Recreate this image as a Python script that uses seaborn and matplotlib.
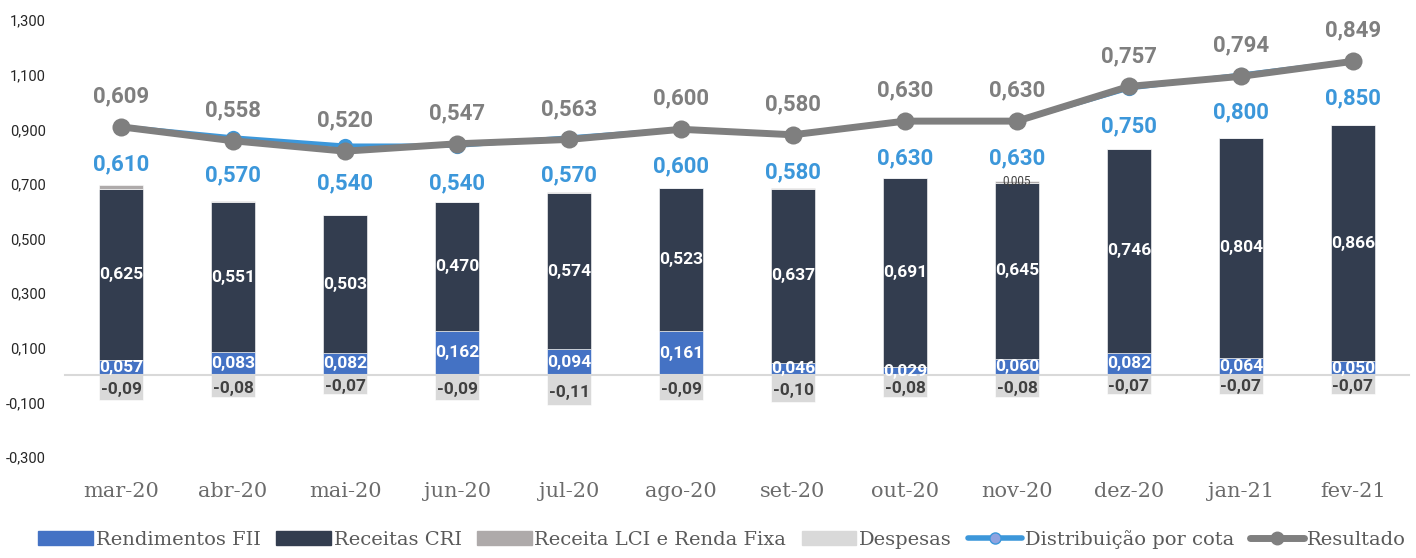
import numpy as np
import matplotlib
matplotlib.use('Agg')
import matplotlib.pyplot as plt
import seaborn as sns
from matplotlib.patches import Patch
from matplotlib.lines import Line2D

# === dados ===
meses = ['mar-20', 'abr-20', 'mai-20', 'jun-20', 'jul-20', 'ago-20',
         'set-20', 'out-20', 'nov-20', 'dez-20', 'jan-21', 'fev-21']
rend_fii = [0.057, 0.083, 0.082, 0.162, 0.094, 0.161, 0.046, 0.029, 0.060, 0.082, 0.064, 0.050]
receitas_cri = [0.625, 0.551, 0.503, 0.470, 0.574, 0.523, 0.637, 0.691, 0.645, 0.746, 0.804, 0.866]
receita_lci = [0.015, 0.002, 0.002, 0.002, 0.002, 0.002, 0.002, 0.002, 0.005, 0.0, 0.0, 0.0]
lci_rotulo = ['', '', '', '', '', '', '', '', '0,005', '', '', '']
despesas = [-0.09, -0.08, -0.07, -0.09, -0.11, -0.09, -0.10, -0.08, -0.08, -0.07, -0.07, -0.07]
distribuicao = [0.610, 0.570, 0.540, 0.540, 0.570, 0.600, 0.580, 0.630, 0.630, 0.750, 0.800, 0.850]
resultado = [0.609, 0.558, 0.520, 0.547, 0.563, 0.600, 0.580, 0.630, 0.630, 0.757, 0.794, 0.849]

c_fii = '#4472c4'
c_cri = '#333d4f'
c_lci = '#aeaaaa'
c_desp = '#d9d9d9'
c_dist = '#3c97da'
c_res = '#7f7f7f'


def fmt(v, casas=3):
    return f"{v:.{casas}f}".replace('.', ',')


sns.set_style('white')
plt.rcParams['font.family'] = ['Roboto', 'DejaVu Sans']

fig = plt.figure(figsize=(14.16, 5.58), dpi=100)
ax = fig.add_axes([0.046, 0.181, 0.949, 0.783])

largura = 0.39
base_cri = np.array(rend_fii)
base_lci = base_cri + np.array(receitas_cri)

sns.barplot(x=meses, y=rend_fii, color=c_fii, width=largura, errorbar=None,
            saturation=1, ax=ax, edgecolor='white', linewidth=0.4)
sns.barplot(x=meses, y=receitas_cri, bottom=base_cri, color=c_cri, width=largura,
            errorbar=None, saturation=1, ax=ax, edgecolor='white', linewidth=0.4)
sns.barplot(x=meses, y=receita_lci, bottom=base_lci, color=c_lci, width=largura,
            errorbar=None, saturation=1, ax=ax, edgecolor='white', linewidth=0.4)
sns.barplot(x=meses, y=despesas, color=c_desp, width=largura, errorbar=None,
            saturation=1, ax=ax, edgecolor='white', linewidth=0.4)

# rotulos das barras
for i in range(len(meses)):
    ax.text(i, rend_fii[i] / 2, fmt(rend_fii[i]), ha='center', va='center',
            color='white', fontsize=12.5, fontweight='bold')
    ax.text(i, base_cri[i] + receitas_cri[i] / 2, fmt(receitas_cri[i]), ha='center',
            va='center', color='white', fontsize=12.5, fontweight='bold')
    ax.text(i, despesas[i] / 2 - 0.008, fmt(despesas[i], 2), ha='center', va='center',
            color='#404040', fontsize=12.5, fontweight='bold')
    if lci_rotulo[i]:
        ax.text(i, base_lci[i] + receita_lci[i], lci_rotulo[i], ha='center',
                va='center', color='#404040', fontsize=8.5)

# linhas no eixo secundario
ax2 = ax.twinx()
x = np.arange(len(meses))
sns.lineplot(x=x, y=distribuicao, color=c_dist, linewidth=3.2, marker='o',
             markersize=11, markeredgewidth=0, ax=ax2, zorder=3)
sns.lineplot(x=x, y=resultado, color=c_res, linewidth=5, marker='o',
             markersize=13, markeredgewidth=0, ax=ax2, zorder=4)
ax2.set_ylim(-0.6, 1.0)
ax2.set_yticks([])
ax2.set_ylabel('')
for s in ax2.spines.values():
    s.set_visible(False)

for i in range(len(meses)):
    ax2.annotate(fmt(resultado[i]), (i, resultado[i]), xytext=(0, 22),
                 textcoords='offset points', ha='center', va='center',
                 color=c_res, fontsize=16, fontweight='bold')
    ax2.annotate(fmt(distribuicao[i]), (i, distribuicao[i]), xytext=(0, -27),
                 textcoords='offset points', ha='center', va='center',
                 color=c_dist, fontsize=16, fontweight='bold')

# eixos (spine primeiro, pois set_position recria os ticks)
for s in ['left', 'right', 'top']:
    ax.spines[s].set_visible(False)
ax.spines['bottom'].set_position(('data', 0))
ax.spines['bottom'].set_color('#d9d9d9')
ax.spines['bottom'].set_linewidth(1.5)

ax.set_xlim(-0.5, len(meses) - 0.5)
ax.set_ylim(-0.3, 1.3)
yt = np.arange(-0.3, 1.31, 0.2)
ax.set_yticks(yt)
ax.set_yticklabels([fmt(v) for v in yt], fontsize=10.5)
ax.set_xticks(range(len(meses)))
ax.set_xticks(np.arange(-0.5, len(meses), 1.0), minor=True)
ax.tick_params(axis='x', which='major', length=0, pad=77, labelsize=15, labelcolor='#6b6b6b')
ax.tick_params(axis='x', which='minor', length=6, width=1.5, color='#d9d9d9', direction='out')
ax.tick_params(axis='y', length=0, pad=14)
ax.set_xticklabels(meses, family='DejaVu Serif', fontsize=15, color='#6b6b6b')
ax.set_xlabel('')
ax.set_ylabel('')

handles = [
    Patch(color=c_fii, label='Rendimentos FII'),
    Patch(color=c_cri, label='Receitas CRI'),
    Patch(color=c_lci, label='Receita LCI e Renda Fixa'),
    Patch(color=c_desp, label='Despesas'),
    Line2D([0], [0], color=c_dist, lw=4, marker='o', markersize=8,
           markerfacecolor='#8fa3e0', markeredgecolor=c_dist, label='Distribuição por cota'),
    Line2D([0], [0], color=c_res, lw=5, marker='o', markersize=9, label='Resultado'),
]
leg = fig.legend(handles=handles, loc='lower center', bbox_to_anchor=(0.51, -0.015),
                 ncol=6, frameon=False, handlelength=2.8, handleheight=0.75,
                 handletextpad=0.15, columnspacing=0.8,
                 prop={'family': 'DejaVu Serif', 'size': 14})
for t in leg.get_texts():
    t.set_color('#595959')

fig.savefig('out.png', dpi=100)
